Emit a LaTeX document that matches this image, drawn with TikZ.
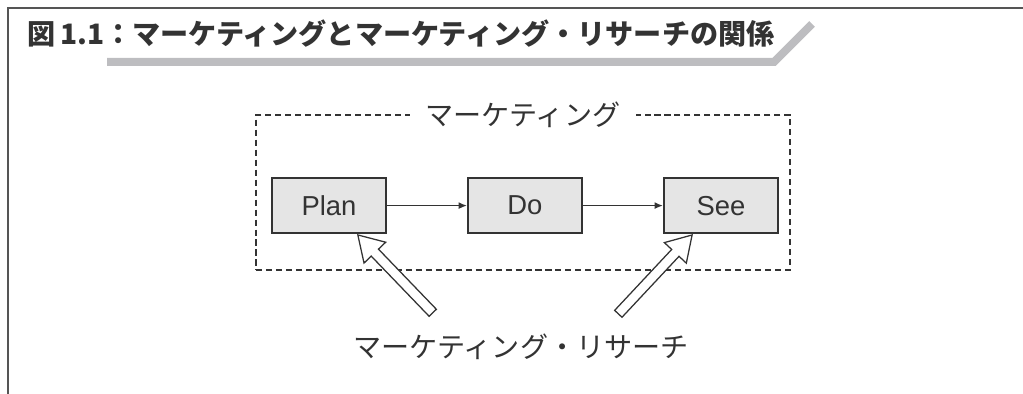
\documentclass[tikz,border=0pt]{standalone}
\usepackage{fontspec}
\setmainfont{Liberation Sans}
\newfontfamily\jpfont{Noto Sans CJK JP}
\usepackage{xcolor}
\usetikzlibrary{arrows.meta, positioning, shapes.arrows}

\definecolor{framegray}{HTML}{555555}
\definecolor{bargray}{HTML}{BDBDC0}
\definecolor{boxfill}{HTML}{E5E5E5}
\definecolor{inkgray}{HTML}{333333}

\begin{document}
\begin{tikzpicture}[
    node distance=2cm,
    stage/.style={draw=inkgray, line width=1.4pt, fill=boxfill, minimum width=2.85cm, minimum height=1.375cm, text=inkgray, font=\fontsize{19.5}{22}\selectfont},
    group/.style={draw=inkgray, line width=1pt, dash pattern=on 4.3pt off 2.8pt, minimum width=13.35cm, minimum height=3.875cm},
    jplabel/.style={text=inkgray, font=\jpfont\fontsize{20}{24}\selectfont},
    flow/.style={-{Latex[length=6pt, width=5pt]}, line width=1pt, draw=inkgray},
    hollow/.style={single arrow, draw=inkgray, line width=0.9pt, fill=white, minimum height=2.7cm, inner xsep=0pt, inner ysep=0.11cm, single arrow head extend=0.25cm, single arrow tip angle=63}
]
\useasboundingbox (0,0) rectangle (25.575,-9.85);

% frame and title
\draw[framegray, line width=1.5pt] (0.19,-9.85) |- (25.575,-0.2);
\draw[bargray, line width=0.2cm] (2.675,-1.55) -- (19.35,-1.55) -- (20.3,-0.6);
\node[jplabel, anchor=west, inner sep=0pt, font=\jpfont\bfseries\fontsize{20}{24}\selectfont] (title) at (0.675,-0.85) {図\,1.1：マーケティングとマーケティング・リサーチの関係};

% marketing group
\node[group] (mkt) at (13.075,-4.8125) {};
\node[jplabel, fill=white, inner xsep=0.4cm] (mktlabel) at (mkt.north) {マーケティング};

\node[stage] (plan) at (8.225,-5.14) {Plan};
\node[stage, right=of plan] (do) {Do};
\node[stage, right=of do] (see) {See};

\draw[flow] (plan) -- (do);
\draw[flow] (do) -- (see);

% research
\node[jplabel] (research) at (13.03,-8.675) {マーケティング・リサーチ};
\node[hollow, rotate=133.9, anchor=tip] (res1) at ([xshift=0.7cm]plan.south) {};
\node[hollow, rotate=46.9, anchor=tip] (res2) at ([xshift=-0.7cm]see.south) {};
\end{tikzpicture}
\end{document}
